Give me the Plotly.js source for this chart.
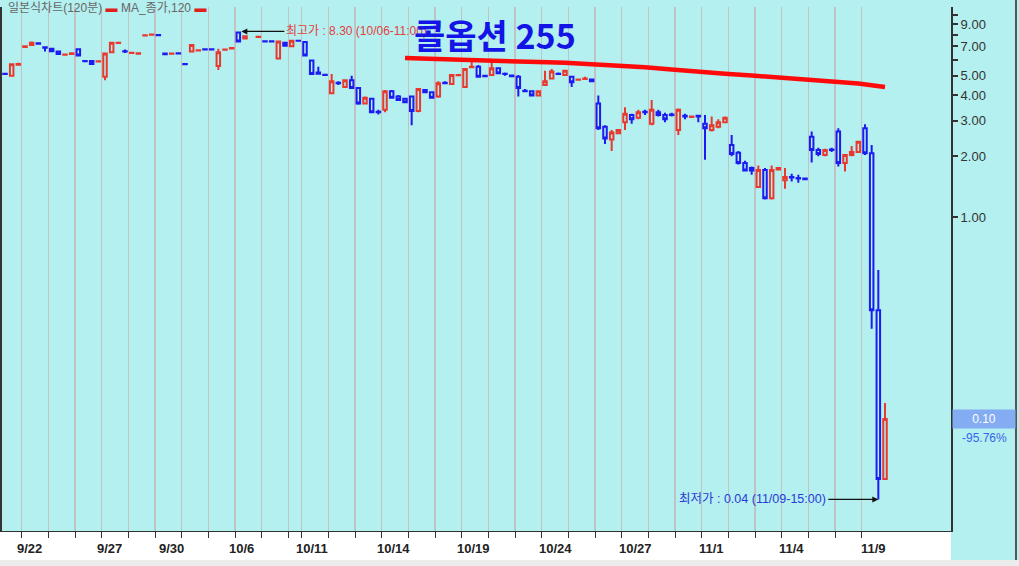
<!DOCTYPE html>
<html><head><meta charset="utf-8">
<script src="https://cdn.plot.ly/plotly-3.0.1.min.js"></script>
<style>html,body{margin:0;padding:0;background:#b3f0ef;}#chart{width:1019px;height:566px;}</style>
</head><body><div id="chart"></div>
<script>
// 120-minute candles (slot index = position in arrays), null = empty slot
const openP  = [5.12,5.00,5.68,6.95,7.10,7.25,6.92,6.80,6.60,6.36,6.42,6.78,5.92,5.92,5.88,4.95,6.55,7.28,6.62,6.48,6.44,7.93,7.98,7.97,6.45,6.43,6.47,5.72,6.60,6.68,6.77,6.77,5.60,6.73,6.83,8.20,7.65,null,7.78,7.42,7.42,6.10,7.30,7.00,7.47,7.35,5.95,5.20,5.07,4.10,4.62,4.40,4.75,4.35,3.65,3.85,3.32,3.40,4.20,3.95,3.85,3.95,3.35,4.25,4.15,3.95,4.62,4.55,5.03,4.40,5.52,5.55,5.00,5.05,5.45,5.12,5.02,4.95,4.22,4.20,4.00,4.50,4.85,5.12,5.05,4.95,4.78,4.83,4.80,3.65,2.80,2.42,2.60,2.95,3.20,3.10,3.32,2.90,3.30,3.20,3.22,2.70,3.17,3.13,3.17,2.90,2.70,2.80,2.95,2.27,2.08,1.85,1.75,1.41,1.71,1.24,1.72,1.52,1.58,1.56,1.55,2.50,2.15,2.03,2.16,2.65,1.85,2.03,2.10,2.75,2.07,0.346,0.0505];
const highP  = [5.15,5.72,5.80,7.05,7.40,7.28,6.95,6.85,6.62,6.40,6.48,6.80,5.95,5.95,5.92,6.45,7.35,7.32,6.75,6.58,6.47,7.97,8.02,7.98,6.50,6.47,6.48,5.73,7.10,6.72,6.78,6.78,6.80,6.77,6.90,8.30,7.90,null,7.82,7.43,7.43,7.45,7.35,7.50,7.48,7.40,6.00,5.55,5.08,5.10,4.70,4.80,5.00,4.40,3.95,3.90,3.40,4.25,4.25,4.02,3.90,4.00,4.35,4.30,4.20,4.70,4.70,5.05,5.08,5.45,5.90,5.65,5.02,5.80,5.50,5.20,5.05,5.05,4.30,4.22,4.22,5.30,5.40,5.20,5.32,5.00,4.85,4.95,4.82,4.00,2.85,2.70,2.72,3.50,3.25,3.40,3.40,3.80,3.40,3.28,3.28,3.45,3.25,3.18,3.18,3.20,3.15,3.05,3.15,2.55,2.12,1.90,1.78,1.80,1.75,1.80,1.76,1.75,1.64,1.62,1.57,2.65,2.20,2.18,2.20,2.75,2.05,2.25,2.38,2.88,2.27,0.547,0.12];
const lowP   = [5.08,4.98,5.66,6.93,7.10,7.18,6.60,6.55,6.40,6.35,6.40,6.28,5.88,5.70,5.86,4.75,6.50,7.26,6.48,6.45,6.42,7.92,7.97,7.92,6.32,6.42,6.43,5.68,6.55,6.67,6.73,6.73,5.35,6.72,6.80,7.40,7.62,null,7.76,7.38,7.38,6.05,7.00,6.98,7.43,6.28,5.08,5.10,5.03,4.05,4.50,4.38,4.30,3.60,3.62,3.28,3.22,3.30,3.88,3.78,3.68,2.85,3.30,4.12,3.88,3.90,4.55,4.50,5.02,4.35,5.50,4.93,4.95,5.00,5.12,5.00,4.95,3.95,4.15,3.98,3.98,4.48,4.82,5.05,5.02,4.40,4.75,4.80,4.68,2.70,2.30,2.12,2.58,2.70,2.90,3.05,3.20,2.85,3.15,2.95,3.15,2.55,3.05,3.10,2.95,1.92,2.65,2.75,2.92,2.00,1.82,1.68,1.62,1.40,1.22,1.22,1.70,1.38,1.50,1.48,1.53,1.86,2.00,2.00,2.10,1.78,1.68,2.00,2.08,2.03,0.28,0.04,0.0505];
const closeP = [5.10,5.70,5.72,7.00,7.30,7.20,6.88,6.62,6.42,6.38,6.46,6.30,5.90,5.72,5.90,6.45,7.30,7.30,6.60,6.50,6.46,7.95,8.00,7.95,6.40,6.45,6.45,5.70,7.10,6.70,6.75,6.75,6.55,6.75,6.87,7.40,7.85,null,7.80,7.40,7.40,7.40,7.05,7.45,7.45,6.30,5.10,5.12,5.05,4.70,4.60,4.75,4.35,3.65,3.90,3.30,3.30,4.20,3.90,3.80,3.70,3.35,4.30,4.15,3.90,4.60,4.60,5.05,5.05,5.40,5.55,4.95,4.98,5.45,5.15,5.10,4.97,4.35,4.20,4.00,4.20,4.70,5.25,5.10,5.30,4.65,4.80,4.85,4.70,2.75,2.45,2.62,2.70,3.25,3.05,3.30,3.30,3.40,3.20,3.05,3.20,3.40,3.15,3.15,3.15,2.75,2.85,2.95,3.10,2.05,1.85,1.70,1.70,1.71,1.24,1.71,1.75,1.58,1.57,1.55,1.54,2.15,2.05,2.15,2.15,1.85,2.03,2.10,2.36,2.07,0.346,0.0505,0.10];

// 120-period moving average of close, read at day boundaries
const maSlots  = [60,64,68,72,76,80,84,88,92,96,100,104,108,112,116,120,124,128,132];
const maValues = [6.12,6.08,6.02,5.97,5.90,5.85,5.80,5.72,5.62,5.52,5.38,5.22,5.12,5.02,4.92,4.82,4.70,4.58,4.40];

// first slot of each trading day (day separators)
const dayStartSlots = [3,7,11,15,19,23,27,31,35,39,43,45,49,53,57,61,65,69,73,77,81,85,89,93,97,101,105,109,113,117,121,125,129];
const dateLabels     = ['9/22','9/27','9/30','10/6','10/11','10/14','10/19','10/24','10/27','11/1','11/4','11/9'];
const dateLabelSlots = [3.6,15.7,25,35.5,46,58.2,70.2,82.5,94.6,106,118,130.2];

const yTickValues = [1,2,3,4,5,6,7,8,9,10];
const yTickLabels = ['1.00','2.00','3.00','4.00','5.00','','7.00','','9.00',''];

const titleText   = '콜옵션 255';
const legendText  = '일본식차트(120분)';
const maName      = 'MA_종가,120';
const highInfo    = {slot: 35, value: 8.30, text: '최고가 : 8.30 (10/06-11:00)'};
const lowInfo     = {slot: 131, value: 0.04, text: '최저가 : 0.04 (11/09-15:00)'};
const lastPrice   = 0.10;
const changePct   = '-95.76%';

const BG = '#b3f0ef';
const xs = openP.map((_, i) => i);

const candles = {
  type: 'candlestick', x: xs, open: openP, high: highP, low: lowP, close: closeP,
  increasing: {line: {color: '#e8392f', width: 2}, fillcolor: BG},
  decreasing: {line: {color: '#1c1cf2', width: 2}, fillcolor: BG},
  whiskerwidth: 0, hoverinfo: 'skip', showlegend: false
};
const ma = {
  type: 'scatter', mode: 'lines', x: maSlots, y: maValues,
  line: {color: '#ff0a0a', width: 4.5}, hoverinfo: 'skip', showlegend: false
};

const gridVals = dayStartSlots.map(s => s - 0.5);
const labelFont = {family: 'Liberation Sans Narrow, Arial Narrow, Liberation Sans, sans-serif', size: 13, color: '#222', weight: 'bold'};

const annotations = dateLabels.map((t, i) => ({
  xref: 'x', yref: 'paper', x: dateLabelSlots[i], y: -0.034, text: '<b>' + t + '</b>',
  showarrow: false, font: labelFont, xanchor: 'center', yanchor: 'middle'
}));

annotations.push({
  xref: 'paper', yref: 'paper', x: 0.004, y: 0.999, xanchor: 'left', yanchor: 'middle',
  text: legendText + ' <span style="color:#e0201a">▬</span> ' + maName + ' <span style="color:#e0201a">▬</span>',
  showarrow: false, font: {family: 'Liberation Sans, Noto Sans CJK KR, sans-serif', size: 12, color: '#666'}
});
annotations.push({
  xref: 'x', yref: 'y', x: highInfo.slot, y: Math.log10(highInfo.value), ax: 46, ay: 0,
  xanchor: 'left', text: highInfo.text, showarrow: true, arrowhead: 2, arrowsize: 1, arrowwidth: 1.2,
  arrowcolor: '#111', standoff: 3,
  font: {family: 'Liberation Sans, Noto Sans CJK KR, sans-serif', size: 12, color: '#e34040'}
});
annotations.push({
  xref: 'x', yref: 'y', x: lowInfo.slot, y: Math.log10(lowInfo.value), ax: -50, ay: 0,
  xanchor: 'right', text: lowInfo.text, showarrow: true, arrowhead: 2, arrowsize: 1, arrowwidth: 1.2,
  arrowcolor: '#111', standoff: 0,
  font: {family: 'Liberation Sans, Noto Sans CJK KR, sans-serif', size: 12.5, color: '#2a3ad8'}
});
annotations.push({
  xref: 'paper', yref: 'paper', x: 0.5195, y: 0.947, xanchor: 'center', yanchor: 'middle',
  text: '<b>' + titleText + '</b>', showarrow: false,
  font: {family: 'Noto Sans CJK KR, sans-serif', size: 34, color: '#1414e6'}
});
annotations.push({
  xref: 'paper', yref: 'y', x: 1.001, y: Math.log10(lastPrice), xanchor: 'left', yanchor: 'middle',
  text: lastPrice.toFixed(2), showarrow: false, bgcolor: '#84acf3', width: 62, height: 18, borderpad: 0,
  font: {family: 'Liberation Sans, sans-serif', size: 12, color: '#ffffff'}
});
annotations.push({
  xref: 'paper', yref: 'paper', x: 1.0355, y: 0.1775, xanchor: 'center', yanchor: 'middle',
  text: changePct, showarrow: false,
  font: {family: 'Liberation Sans, sans-serif', size: 12, color: '#3a64e8'}
});

const layout = {
  width: 1019, height: 566,
  margin: {l: 2, r: 68, t: 7, b: 35},
  paper_bgcolor: BG, plot_bgcolor: BG,
  showlegend: false, hovermode: false, boxgap: 0.25,
  xaxis: {
    range: [-0.45, 141.9], tickvals: gridVals, ticktext: gridVals.map(() => ''),
    showgrid: true, gridcolor: '#bfc3c3', gridwidth: 1.5,
    ticks: 'outside', ticklen: 6, tickcolor: '#333', tickwidth: 1,
    showline: true, linecolor: '#333', linewidth: 1, zeroline: false,
    rangeslider: {visible: false}, fixedrange: true
  },
  yaxis: {
    type: 'log', side: 'right', range: [Math.log10(0.0279), Math.log10(10.96)],
    tickvals: yTickValues, ticktext: yTickLabels,
    ticks: 'outside', ticklen: 5, tickwidth: 2, tickcolor: '#333',
    showline: true, linecolor: '#333', linewidth: 2, mirror: true,
    showgrid: false, zeroline: false, fixedrange: true,
    tickfont: {family: 'Liberation Sans, Arial, sans-serif', size: 13, color: '#333'}
  },
  shapes: [
    {type: 'rect', xref: 'paper', yref: 'paper', x0: -0.003, x1: 1.0, y0: -0.0553, y1: 0,
     fillcolor: '#ffffff', line: {width: 0}, layer: 'below'},
    {type: 'rect', xref: 'paper', yref: 'paper', x0: -0.003, x1: 1.073, y0: -0.07, y1: -0.0553,
     fillcolor: '#ececec', line: {width: 0}, layer: 'below'},
    {type: 'line', xref: 'paper', yref: 'paper', x0: 1.0685, x1: 1.0685, y0: -0.0553, y1: 1.014,
     line: {color: '#555', width: 2}}
  ],
  annotations: annotations
};

Plotly.newPlot('chart', [candles, ma], layout, {displayModeBar: false, staticPlot: true});
</script>
</body></html>
